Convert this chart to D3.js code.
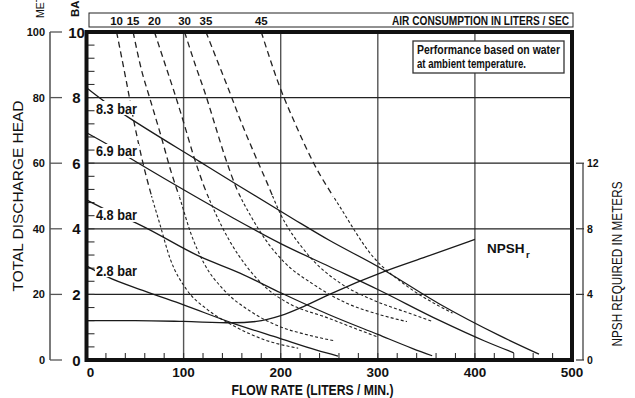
<!DOCTYPE html>
<html><head><meta charset="utf-8">
<script src="https://cdn.jsdelivr.net/npm/d3@7"></script>
<style>
body{margin:0;background:#fff}
svg{display:block}
text{font-family:"Liberation Sans",Arial,sans-serif;fill:#111}
</style>
</head><body>
<svg id="c" width="635" height="398"></svg>
<script>
// ---------- DATA ----------
const flowTicks = [0, 100, 200, 300, 400, 500];
const headTicks = [0, 20, 40, 60, 80, 100];
const barTicks = [0, 2, 4, 6, 8, 10];
const npshTicks = [0, 4, 8, 12];
const airLabels = ["10", "15", "20", "30", "35", "45"];
const perfLabels = ["8.3 bar", "6.9 bar", "4.8 bar", "2.8 bar"];

// performance curves [flow L/min, head m]
const perf83 = [[0,83],[20,78.5],[42,74.2],[117,60.4],[158,52.9],[213,43],[250,36.5],[300,28.5],[364,17],[425,7.5],[466,1.8]];
const perf69 = [[0,69.3],[20,66],[45,61.5],[117,49],[151,43.3],[200,35.5],[250,28.5],[300,21.5],[364,12],[410,5.8],[440,2.2]];
const perf48 = [[0,48.8],[20,45.8],[55,41.2],[117,31.5],[158,26.5],[200,20.5],[250,13.8],[300,7.8],[336,3.5],[356,1.3]];
const perf28 = [[0,28.7],[21,25.4],[60,21],[100,16.8],[151,11.2],[199,6.6],[237,3],[259,1.2]];

// air consumption curves [flow, head]
const air10 = [[31,100],[41,85],[50,71],[59,59],[67,50],[75,42],[86,31],[103,21.5],[124,15.5],[151,10.5],[185,6],[218,3.6]];
const air15 = [[48,100],[57,88],[65,80],[77,68],[87,57.5],[97,48.5],[107,39],[121,29.5],[141,21.5],[168,15],[199,10.2],[230,7.5],[256,5.8]];
const air20 = [[70,100],[80,91],[90,82],[100,72.5],[110,62.5],[121,53],[134,44],[148,36],[165,28.5],[185,22],[210,17],[247,13],[275,9.8],[300,7]];
const air30 = [[101,100],[112,90],[122,81.5],[132,72],[142,62.5],[155,52],[169,44],[186,36],[203,30],[234,23],[268,17.3],[300,14],[330,11.7]];
const air35 = [[123,100],[135,91],[147,82],[158,73.5],[172,63.5],[186,54],[199,45],[227,32.5],[261,23.5],[295,18.3],[330,14.5],[357,11.7]];
const air45 = [[180,100],[199,83.3],[215,72],[234,60],[261,46.7],[295,31.5],[326,23.4],[364,16.3],[377,14.3]];

// NPSH required [flow, NPSH m]
const npsh = [[0,2.4],[50,2.4],[100,2.35],[150,2.27],[175,2.35],[200,2.7],[225,3.3],[252,4.05],[307,5.4],[350,6.3],[400,7.35]];

const perfSeries = [perf83, perf69, perf48, perf28];
const airSeries = [air10, air15, air20, air30, air35, air45];

// ---------- LAYOUT ----------
const svg = d3.select("#c");
const x = d3.scaleLinear([0, 500], [86.5, 572]);
const y = d3.scaleLinear([0, 100], [360, 32]);
const yBar = d3.scaleLinear([0, 10], [360, 32]);
const yN = d3.scaleLinear([0, 20], [360, 32]);
const labelBaselineHead = [75.3, 62.2, 42.7, 25.9];
const dashSplit = 50;

// gridlines
svg.append("g").selectAll("line").data(flowTicks.slice(1, -1)).join("line")
  .attr("x1", d => x(d)).attr("x2", d => x(d)).attr("y1", y(100)).attr("y2", y(0))
  .attr("stroke", "#555").attr("stroke-width", 1.4);
svg.append("g").selectAll("line").data(headTicks.slice(1, -1)).join("line")
  .attr("x1", x(0)).attr("x2", x(500)).attr("y1", d => y(d)).attr("y2", d => y(d))
  .attr("stroke", "#222").attr("stroke-width", 1.2);

// minor ticks
svg.append("g").selectAll("line").data(d3.range(0, 101, 4)).join("line")
  .attr("x1", x(0)).attr("x2", x(0) + 8).attr("y1", d => y(d)).attr("y2", d => y(d))
  .attr("stroke", "#333").attr("stroke-width", 1.1);
svg.append("g").selectAll("line").data(d3.range(0, 501, 20)).join("line")
  .attr("x1", d => x(d)).attr("x2", d => x(d)).attr("y1", y(0)).attr("y2", y(0) - 7)
  .attr("stroke", "#333").attr("stroke-width", 1.1);

// clip paths for dash styles
const defs = svg.append("defs");
defs.append("clipPath").attr("id", "up").append("rect")
  .attr("x", 0).attr("y", 0).attr("width", 635).attr("height", y(dashSplit));
defs.append("clipPath").attr("id", "lo").append("rect")
  .attr("x", 0).attr("y", y(dashSplit)).attr("width", 635).attr("height", 398 - y(dashSplit));

const line = d3.line().x(d => x(d[0])).y(d => y(d[1])).curve(d3.curveMonotoneX);
const nline = d3.line().x(d => x(d[0])).y(d => yN(d[1])).curve(d3.curveMonotoneX);

// air curves
const ga = svg.append("g").attr("fill", "none").attr("stroke", "#222");
ga.append("g").attr("clip-path", "url(#up)").selectAll("path").data(airSeries).join("path")
  .attr("d", line).attr("stroke-width", 1.3).attr("stroke-dasharray", "6,4");
ga.append("g").attr("clip-path", "url(#lo)").selectAll("path").data(airSeries).join("path")
  .attr("d", line).attr("stroke-width", 1.1).attr("stroke-dasharray", "3,2.2");

// performance curves
svg.append("g").attr("fill", "none").attr("stroke", "#1a1a1a").attr("stroke-width", 1.3)
  .selectAll("path").data(perfSeries).join("path").attr("d", line);

// NPSH curve
svg.append("path").datum(npsh).attr("d", nline).attr("fill", "none")
  .attr("stroke", "#1a1a1a").attr("stroke-width", 1.3);

// performance labels with white backing
perfLabels.forEach((lab, i) => {
  const g = svg.append("g");
  const t = g.append("text").attr("x", 96).attr("y", y(labelBaselineHead[i]) + 0.5)
    .attr("font-size", 15).attr("font-weight", "bold")
    .attr("textLength", 41).attr("lengthAdjust", "spacingAndGlyphs").text(lab);
  const b = t.node().getBBox();
  g.insert("rect", "text").attr("x", b.x - 1).attr("y", b.y + 1.5).attr("width", b.width + 3)
    .attr("height", b.height - 3).attr("fill", "#fff");
});

// NPSHr label
svg.append("text").attr("x", 487).attr("y", 253).attr("font-size", 13.5).attr("font-weight", "bold").text("NPSH");
svg.append("text").attr("x", 526).attr("y", 257.5).attr("font-size", 9.5).attr("font-weight", "bold").text("r");

// legend box
svg.append("rect").attr("x", 413).attr("y", 41).attr("width", 151).attr("height", 32)
  .attr("fill", "#fff").attr("stroke", "#333").attr("stroke-width", 1.3);
svg.append("text").attr("x", 417).attr("y", 54).attr("font-size", 12.5).attr("font-weight", "bold")
  .attr("textLength", 143).attr("lengthAdjust", "spacingAndGlyphs").text("Performance based on water");
svg.append("text").attr("x", 417).attr("y", 67.5).attr("font-size", 12.5).attr("font-weight", "bold")
  .attr("textLength", 109).attr("lengthAdjust", "spacingAndGlyphs").text("at ambient temperature.");

// frame
svg.append("rect").attr("x", x(0)).attr("y", y(100)).attr("width", x(500) - x(0)).attr("height", y(0) - y(100))
  .attr("fill", "none").attr("stroke", "#111").attr("stroke-width", 4);

// top air consumption box
svg.append("rect").attr("x", 89).attr("y", 13).attr("width", 484).attr("height", 14)
  .attr("fill", "#fff").attr("stroke", "#222").attr("stroke-width", 1);
svg.append("g").selectAll("text").data(airSeries).join("text")
  .attr("x", d => x(d[0][0])).attr("y", 24.5).attr("text-anchor", "middle")
  .attr("font-size", 11.5).attr("font-weight", "bold").text((d, i) => airLabels[i]);
svg.append("text").attr("x", 569).attr("y", 24.5).attr("text-anchor", "end")
  .attr("font-size", 12).attr("font-weight", "bold")
  .attr("textLength", 177).attr("lengthAdjust", "spacingAndGlyphs")
  .text("AIR CONSUMPTION IN LITERS / SEC");

// bottom axis labels
svg.append("g").selectAll("text").data(flowTicks).join("text")
  .attr("x", d => x(d) + (d === 0 ? 4 : 0)).attr("y", 377).attr("text-anchor", "middle")
  .attr("font-size", 13.5).attr("font-weight", "bold").text(d => d);
svg.append("text").attr("x", 312.5).attr("y", 394.5).attr("text-anchor", "middle")
  .attr("font-size", 15).attr("font-weight", "bold")
  .attr("textLength", 162).attr("lengthAdjust", "spacingAndGlyphs")
  .text("FLOW RATE (LITERS / MIN.)");

// left meters axis
svg.append("line").attr("x1", 50).attr("x2", 50).attr("y1", y(100)).attr("y2", y(0))
  .attr("stroke", "#222").attr("stroke-width", 1.2);
svg.append("g").selectAll("line").data(headTicks).join("line")
  .attr("x1", 50).attr("x2", 62).attr("y1", d => y(d)).attr("y2", d => y(d))
  .attr("stroke", "#555").attr("stroke-width", 1.3);
svg.append("g").selectAll("text").data(headTicks).join("text")
  .attr("x", 45).attr("y", d => y(d) + 4).attr("text-anchor", "end")
  .attr("font-size", 11).attr("font-weight", "bold").text(d => d);
// bar axis labels
svg.append("g").selectAll("text").data(barTicks).join("text")
  .attr("x", 76.5).attr("y", d => yBar(d) + 5.5).attr("text-anchor", "middle")
  .attr("font-size", 15).attr("font-weight", "bold").text(d => d);

svg.append("text").attr("transform", "translate(43.5,18) rotate(-90)")
  .attr("font-size", 10.5).attr("fill", "#333").text("METERS");
svg.append("text").attr("transform", "translate(78.5,17) rotate(-90)")
  .attr("font-size", 11.5).attr("font-weight", "bold").text("BAR");
svg.append("text").attr("transform", "translate(23,196) rotate(-90)").attr("text-anchor", "middle")
  .attr("font-size", 15).attr("textLength", 191).attr("lengthAdjust", "spacingAndGlyphs")
  .text("TOTAL DISCHARGE HEAD");

// right NPSH axis
svg.append("line").attr("x1", 583).attr("x2", 583).attr("y1", yN(12)).attr("y2", yN(0))
  .attr("stroke", "#333").attr("stroke-width", 1.2);
svg.append("g").selectAll("line").data(npshTicks).join("line")
  .attr("x1", 576).attr("x2", 584).attr("y1", d => yN(d)).attr("y2", d => yN(d))
  .attr("stroke", "#333").attr("stroke-width", 1.2);
svg.append("g").selectAll("text").data(npshTicks).join("text")
  .attr("x", 587).attr("y", d => yN(d) + 4).attr("font-size", 10.5).attr("font-weight", "bold").text(d => d);
svg.append("text").attr("transform", "translate(622,264) rotate(-90)").attr("text-anchor", "middle")
  .attr("font-size", 14).attr("textLength", 165).attr("lengthAdjust", "spacingAndGlyphs")
  .text("NPSH REQUIRED IN METERS");
</script>
</body></html>
